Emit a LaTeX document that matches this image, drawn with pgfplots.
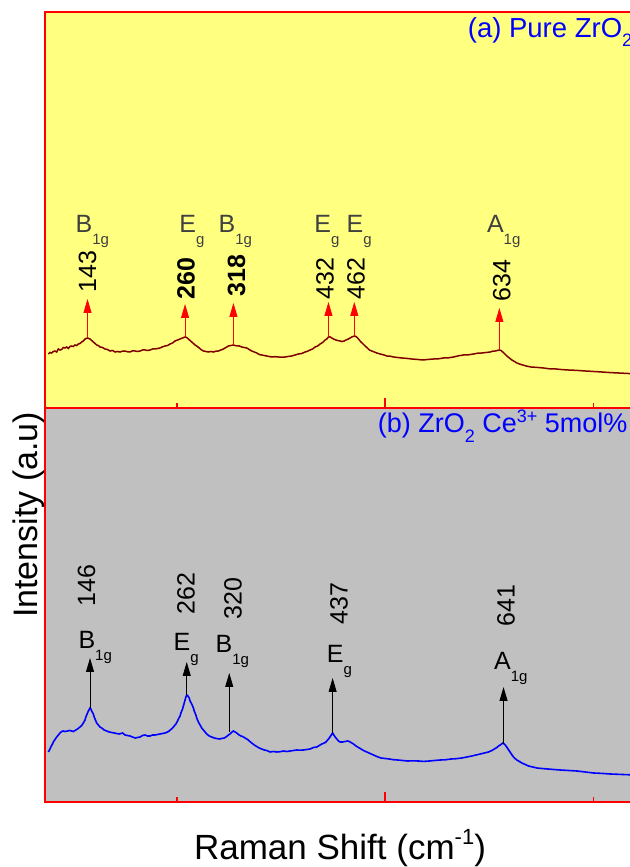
\documentclass[border=0pt]{standalone}
\usepackage{fontspec}
\setmainfont{Liberation Sans}
\usepackage{pgfplots}
\pgfplotsset{compat=1.18}
\usepackage{pgfplotstable}
\usetikzlibrary{arrows.meta}
\definecolor{panelyellow}{RGB}{255,255,128}
\definecolor{panelgray}{RGB}{192,192,192}
\definecolor{maroon}{RGB}{128,0,0}
\definecolor{labgray}{RGB}{64,64,64}
\newcommand{\fs}[1]{\fontsize{#1}{#1}\selectfont}
\newcommand{\mode}[2]{#1\raisebox{-12pt}{\fs{15}#2}}

\pgfplotstableread{
x y
96 54
98 55.5
100 55
102 56.5
104 57
106 56
108 59
110 58
112 58.5
114 60.5
116 60
118 61
120 59.5
122 61.5
124 62
126 61.5
128 63
130 62.5
132 64
134 64.5
136 66
138 67
140 69
143 70
146 69
148 67.5
150 66
152 64.5
154 63
156 62.5
158 61
161 60.5
164 59
167 58.5
170 57
173 57.5
176 56
179 56.5
182 56
185 56.8
188 57
191 56.2
194 56
197 57.2
200 57
203 56.5
206 57
209 58
212 58
215 57.5
218 58
221 59
224 59
227 59.5
230 60
233 61.2
236 62
239 62.5
242 64
245 65
248 67
251 68
254 69
257 70
260 71
262 70.5
264 69
266 67.5
268 66
270 64.5
272 63
274 62
277 60
279 58.5
282 57
285 56.5
288 56
291 56.5
294 56
297 56.8
300 57
303 58
306 59
309 60.5
312 62
315 62.5
318 63
320 62.5
323 62
325 62
328 61
331 60.5
334 60
337 58.5
340 57
343 56
346 55
349 53.5
352 53
355 52.5
358 52
361 51.5
364 51
368 51.3
372 51
376 50.8
380 51
384 51.6
388 52
392 53
396 54
400 54.5
404 56
407 56.8
410 58
413 59
416 61
419 62
422 64
425 65.5
428 68
430 69
432 71
434 71
436 70
438 69
441 68
443 67.5
446 67
448 66.5
451 67
453 68
456 69
458 70
460 71
463 72
465 71.5
467 70
469 68
471 66
473 64.5
476 62
478 60.5
481 58
484 57
487 56
490 55
494 54
498 53.2
502 52
506 51.8
510 51
515 50.5
520 50
526 49.6
532 49
538 48.6
545 48
551 48.5
558 49
564 49.2
570 50
576 50.2
582 51
588 52.2
594 53
600 53.2
606 54
611 54.8
616 55
621 55.5
626 56
629 56.8
632 57
635 57.6
637 58
639 57.5
641 56
643 54.5
646 52
649 50
652 48
655 46.5
658 45
661 44
665 43
670 41.8
675 41
682 40.6
690 40
697 39.2
705 39
712 38.4
720 38
730 37.6
740 37
750 36.5
760 36
770 35.4
780 35
790 34.6
800 34
}\specA

\pgfplotstableread{
x y
96 50
98 53
99 55
101 58
102 60
104 62.5
106 65
108 67
110 69
112 70.5
114 71
116 70.5
119 71
121 71.5
124 71
126 70.5
129 72
131 73
134 75
136 76.5
138 79
140 82
141 85
143 89
144 91
146 94
147 93
148 91
150 88
151 85
153 81
154 79
156 77
158 75
160 74
163 72
166 71
169 70
172 69.5
175 69
178 68.5
181 68
185 69
188 67
191 66.5
194 66
197 65
200 64
203 64.5
206 65
209 66.5
212 67
215 66
218 66
221 67
224 67
227 67.5
230 68
233 68.5
236 69
239 70
241 71
243 72.5
245 74
247 76
249 78
251 81
252 83
254 86
255 89
257 93
258 96
259 99
260 102
261 105
262 107
263 106.5
265 104
266 101
268 98
270 94
271 91
273 87
274 84
276 80
278 77
280 74
283 71
286 68
289 66
292 65
295 64
298 63.5
301 63
304 63.5
307 64
310 65.5
312 67
314 68
315 69
317 70.5
318 71
320 70
322 69
324 67.5
327 66
329 65.5
332 64
335 62.5
337 61
340 59
343 57
346 55.5
349 54
352 53
355 52
358 51.5
362 50
366 50.5
370 50
374 50.3
378 51
382 50.5
386 51
390 51.5
394 52
398 51.8
402 52
406 52.5
410 53
414 54.5
418 55
421 56.5
424 58
427 59
429 60
431 62
433 64
435 66.5
437 69
438 67.5
440 65
442 63
444 61
446 60
449 60
452 60.5
455 61
457 60.5
460 59
462 58
465 56
468 54.5
471 53
474 51.5
478 50
482 48.5
486 47
490 45.5
495 44
500 43.5
505 43
510 42.3
515 42
521 41.5
527 41
533 41.2
540 41
546 40.6
553 41
559 41.5
566 42
572 42.2
579 43
585 43.3
592 44
598 45
604 46
609 47
614 48
619 49
624 50
628 51.5
631 53
634 54.5
636 56
639 57.5
641 59
643 58
645 56
647 53.5
649 51
651 48.5
653 46
655 44
658 42
661 40.5
664 39
668 37.5
672 36
677 35
682 34
688 33.5
695 33
702 32.5
710 32
720 31.5
730 31
740 30
750 29
760 28.6
770 28
785 27.5
800 27
}\specB

\pgfplotsset{ramanpanel/.style={
  scale only axis, width=757pt, xmin=92, xmax=1000, ymin=0,
  axis line style={red, line width=1.6pt},
  xtick={500}, minor xtick={250,750}, xticklabels={,,},
  tick align=inside, xtick pos=bottom, ytick=\empty,
  major tick length=10pt, minor tick length=5pt,
  tick style={red, line width=1.6pt},
  minor tick style={red, line width=1.6pt},
  clip=false,
}}

\begin{document}
\begin{tikzpicture}[x=1pt,y=1pt]
% (a) pure ZrO2
\begin{axis}[ramanpanel, at={(45pt,459pt)}, anchor=south west,
  height=396pt, ymax=396,
  axis background/.style={fill=panelyellow}]
\addplot[maroon, line width=1.5pt] table[x=x,y=y] {\specA};
\foreach \xx/\ya/\yb in {143/70/109, 260/71/104, 318/63/105, 432/71/106, 463/72/106, 637/58/100}{
  \edef\temp{\noexpand\draw[red, line width=0.8pt, -{Triangle[length=14pt,width=8pt]}] (axis cs:\xx,\ya) -- (axis cs:\xx,\yb);}
  \temp
}
\node[rotate=90, anchor=west, inner sep=0pt, font=\fs{25}] at (axis cs:143,115) {143};
\node[rotate=90, anchor=west, inner sep=0pt, font=\fs{25}\bfseries] at (axis cs:261,108) {260};
\node[rotate=90, anchor=west, inner sep=0pt, font=\fs{25}\bfseries] at (axis cs:321.7,111) {318};
\node[rotate=90, anchor=west, inner sep=0pt, font=\fs{25}] at (axis cs:427.9,108) {432};
\node[rotate=90, anchor=west, inner sep=0pt, font=\fs{25}] at (axis cs:465,108) {462};
\node[rotate=90, anchor=west, inner sep=0pt, font=\fs{25}] at (axis cs:640,106) {634};
\node[anchor=base west, inner sep=0pt, font=\fs{25}, text=labgray] at (axis cs:128.5,175) {\mode{B}{1g}};
\node[anchor=base west, inner sep=0pt, font=\fs{25}, text=labgray] at (axis cs:253,175) {\mode{E}{g}};
\node[anchor=base west, inner sep=0pt, font=\fs{25}, text=labgray] at (axis cs:300,175) {\mode{B}{1g}};
\node[anchor=base west, inner sep=0pt, font=\fs{25}, text=labgray] at (axis cs:415,175) {\mode{E}{g}};
\node[anchor=base west, inner sep=0pt, font=\fs{25}, text=labgray] at (axis cs:453.5,175) {\mode{E}{g}};
\node[anchor=base west, inner sep=0pt, font=\fs{25}, text=labgray] at (axis cs:622,175) {\mode{A}{1g}};
\node[anchor=base west, inner sep=0pt, font=\fs{27.5}, text=blue] at (axis cs:599,370) {(a) Pure ZrO\raisebox{-9pt}{\fs{18}2}};
\end{axis}
% (b) ZrO2:Ce3+
\begin{axis}[ramanpanel, at={(45pt,65pt)}, anchor=south west,
  height=394pt, ymax=394,
  axis background/.style={fill=panelgray}]
\addplot[blue, line width=1.6pt] table[x=x,y=y] {\specB};
\foreach \xx/\ya/\yb in {146/94/144, 262/107/140, 313/70/129, 437/69/124, 642/58/115}{
  \edef\temp{\noexpand\draw[black, line width=0.8pt, -{Triangle[length=14pt,width=8pt]}] (axis cs:\xx,\ya) -- (axis cs:\xx,\yb);}
  \temp
}
\node[rotate=90, anchor=west, inner sep=0pt, font=\fs{25}] at (axis cs:141.8,195) {146};
\node[rotate=90, anchor=west, inner sep=0pt, font=\fs{25}] at (axis cs:261,187) {262};
\node[rotate=90, anchor=west, inner sep=0pt, font=\fs{25}] at (axis cs:317.5,182) {320};
\node[rotate=90, anchor=west, inner sep=0pt, font=\fs{25}] at (axis cs:444.6,177) {437};
\node[rotate=90, anchor=west, inner sep=0pt, font=\fs{25}] at (axis cs:644.9,175) {641};
\node[anchor=base west, inner sep=0pt, font=\fs{25}] at (axis cs:132,153) {\mode{B}{1g}};
\node[anchor=base west, inner sep=0pt, font=\fs{25}] at (axis cs:246,151) {\mode{E}{g}};
\node[anchor=base west, inner sep=0pt, font=\fs{25}] at (axis cs:296.5,149) {\mode{B}{1g}};
\node[anchor=base west, inner sep=0pt, font=\fs{25}] at (axis cs:430,139) {\mode{E}{g}};
\node[anchor=base west, inner sep=0pt, font=\fs{25}] at (axis cs:630.5,132) {\mode{A}{1g}};
\node[anchor=base west, inner sep=0pt, font=\fs{27}, text=blue] at (axis cs:491,369) {(b) ZrO\raisebox{-10pt}{\fs{18}2} Ce\raisebox{10pt}{\fs{18}3+} 5mol\%};
\end{axis}
% axis titles
\node[anchor=base, inner sep=0pt, font=\fs{35}] at (340pt,8pt) {Raman Shift (cm\raisebox{14pt}{\fs{22}-1})};
\node[rotate=90, anchor=base, inner sep=0pt, font=\fs{34}] at (37pt,352pt) {Intensity (a.u)};
\pgfresetboundingbox
\path[use as bounding box] (0pt,0pt) rectangle (629pt,867pt);
\end{tikzpicture}
\end{document}
